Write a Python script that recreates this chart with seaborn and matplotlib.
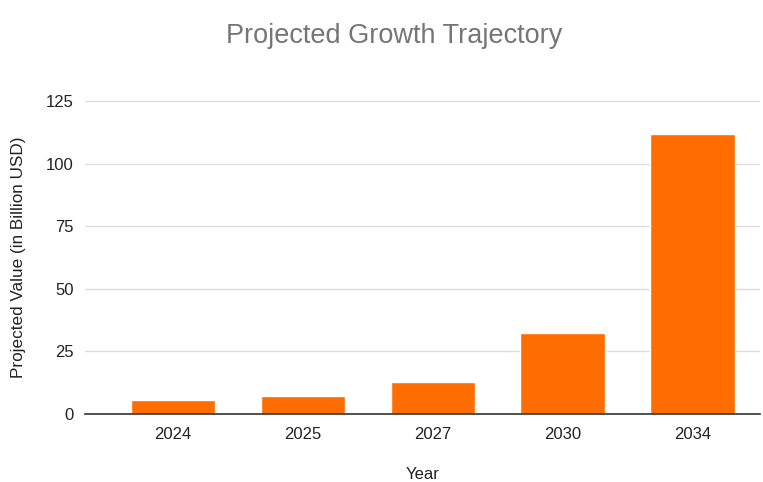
import matplotlib
matplotlib.use("Agg")
import matplotlib.pyplot as plt
import seaborn as sns
import pandas as pd

years = ["2024", "2025", "2027", "2030", "2034"]
values = [5.6, 7.2, 12.7, 32.5, 112.0]

sns.set_style("white")
plt.rcParams["font.family"] = ["Liberation Sans", "DejaVu Sans"]

df = pd.DataFrame({"Year": years, "Value": values})

fig = plt.figure(figsize=(7.63, 4.82), dpi=100)
ax = fig.add_axes([0.111, 0.141, 0.885, 0.652])

sns.barplot(data=df, x="Year", y="Value", color="#FF6D01", width=0.65,
            saturation=1, ax=ax, zorder=3)

ax.set_ylim(0, 125.5)
ax.set_xlim(-0.68, 4.52)
ax.set_yticks([0, 25, 50, 75, 100, 125])
ax.yaxis.grid(True, color="#dddddd", linewidth=1, zorder=0)
for s in ["top", "right", "left"]:
    ax.spines[s].set_visible(False)
ax.spines["bottom"].set_color("#333333")
ax.spines["bottom"].set_linewidth(1.2)
ax.spines["bottom"].set_zorder(4)
ax.tick_params(axis="both", length=0, labelsize=12, labelcolor="#222222")
ax.tick_params(axis="y", pad=8)
ax.tick_params(axis="x", pad=9)

ax.set_xlabel("Year", fontsize=12, color="#222222", labelpad=18)
ax.set_ylabel("Projected Value (in Billion USD)", fontsize=12.3, color="#222222", labelpad=14)

fig.text(0.516, 0.925, "Projected Growth Trajectory", ha="center", va="center",
         fontsize=19.5, color="#757575")

fig.savefig("out.png", dpi=100, facecolor="white")
